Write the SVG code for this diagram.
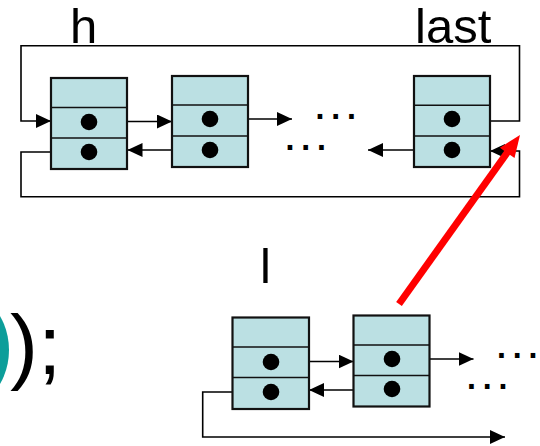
<svg xmlns="http://www.w3.org/2000/svg" width="540" height="446" viewBox="0 0 540 446">
  <style>
    .cell { fill: #bbe0e3; stroke: #111; stroke-width: 2.2; }
    .div { stroke: #111; stroke-width: 1.6; fill: none; }
    .dot { fill: #000; }
    .wire { stroke: #000; stroke-width: 1.6; fill: none; }
    .lbl { font-family: "Liberation Sans", Arial, sans-serif; fill: #000; }
    .more { font-family: "DejaVu Sans", sans-serif; font-weight: bold; font-size: 26px; fill: #000; }
  </style>
  <defs>
    <marker id="ah" viewBox="0 0 15 14" refX="15" refY="7" markerWidth="15" markerHeight="14" markerUnits="userSpaceOnUse" orient="auto">
      <path d="M0,0 L15,7 L0,14 Z" fill="#000"/>
    </marker>
  </defs>

  <rect width="540" height="446" fill="#fff"/>

  <!-- partial teal badge and closing of the call -->
  <circle cx="-60" cy="350" r="69" fill="#0c9e9a"/>
  <text class="lbl" x="10" y="374" font-size="84">);</text>

  <!-- labels -->
  <text class="lbl" x="70" y="43" font-size="49">h</text>
  <text class="lbl" x="415" y="43" font-size="49">last</text>
  <text class="lbl" x="260" y="283" font-size="49">l</text>

  <!-- dots for omitted nodes -->
  <text class="more" x="315" y="118.5">.<tspan dx="5.8">.</tspan><tspan dx="5.8">.</tspan></text>
  <text class="more" x="285" y="149.5">.<tspan dx="5.8">.</tspan><tspan dx="5.8">.</tspan></text>
  <text class="more" x="496.5" y="358">.<tspan dx="5.8">.</tspan><tspan dx="5.8">.</tspan></text>
  <text class="more" x="466.5" y="389">.<tspan dx="5.8">.</tspan><tspan dx="5.8">.</tspan></text>

  <!-- connectors -->
  <g id="connectors">
    <!-- top ring: last.next back to h -->
    <path class="wire" d="M452,121 H519.5 V45.7 H21 V121 H51" marker-end="url(#ah)"/>
    <!-- bottom ring: h.prev back to last -->
    <path class="wire" d="M89,152 H21 V196.7 H519.5 V151 H490" marker-end="url(#ah)"/>
    <path class="wire" d="M89,121.5 H172" marker-end="url(#ah)"/>
    <path class="wire" d="M210,119 H292" marker-end="url(#ah)"/>
    <path class="wire" d="M210,150 H127.5" marker-end="url(#ah)"/>
    <path class="wire" d="M452,150 H368" marker-end="url(#ah)"/>
    <!-- second list -->
    <path class="wire" d="M271,361.5 H353.5" marker-end="url(#ah)"/>
    <path class="wire" d="M392,359 H473.5" marker-end="url(#ah)"/>
    <path class="wire" d="M392,390 H309" marker-end="url(#ah)"/>
    <path class="wire" d="M271,392 H202.7 V437 H505" marker-end="url(#ah)"/>
  </g>

  <!-- first list -->
  <g id="node-h">
    <rect class="cell" x="51" y="78" width="76" height="91"/>
    <line class="div" x1="51" y1="107.5" x2="127" y2="107.5"/>
    <line class="div" x1="51" y1="138" x2="127" y2="138"/>
    <circle class="dot" cx="89" cy="122" r="8.3"/>
    <circle class="dot" cx="89" cy="152" r="8.3"/>
  </g>
  <g id="node-2">
    <rect class="cell" x="172" y="76" width="76" height="91"/>
    <line class="div" x1="172" y1="105" x2="248" y2="105"/>
    <line class="div" x1="172" y1="136" x2="248" y2="136"/>
    <circle class="dot" cx="210" cy="119" r="8.3"/>
    <circle class="dot" cx="210" cy="150" r="8.3"/>
  </g>
  <g id="node-last">
    <rect class="cell" x="414" y="76" width="76" height="91"/>
    <line class="div" x1="414" y1="105.3" x2="490" y2="105.3"/>
    <line class="div" x1="414" y1="136" x2="490" y2="136"/>
    <circle class="dot" cx="452" cy="119" r="8.3"/>
    <circle class="dot" cx="452" cy="150" r="8.3"/>
  </g>

  <!-- second list -->
  <g id="node-l">
    <rect class="cell" x="232.5" y="317.5" width="76.5" height="91.5"/>
    <line class="div" x1="232.5" y1="347" x2="309" y2="347"/>
    <line class="div" x1="232.5" y1="377.5" x2="309" y2="377.5"/>
    <circle class="dot" cx="271" cy="362" r="8.3"/>
    <circle class="dot" cx="271" cy="392" r="8.3"/>
  </g>
  <g id="node-l2">
    <rect class="cell" x="353.5" y="315.5" width="76" height="91"/>
    <line class="div" x1="353.5" y1="345" x2="429.5" y2="345"/>
    <line class="div" x1="353.5" y1="375.5" x2="429.5" y2="375.5"/>
    <circle class="dot" cx="392" cy="359" r="8.3"/>
    <circle class="dot" cx="392" cy="389" r="8.3"/>
  </g>

  <!-- red link from the second list into last -->
  <g id="splice">
    <line x1="399" y1="304" x2="508" y2="151.5" stroke="#f00" stroke-width="7"/>
    <polygon points="520,135 514.5,158.1 499.9,147.7" fill="#f00"/>
  </g>
</svg>
